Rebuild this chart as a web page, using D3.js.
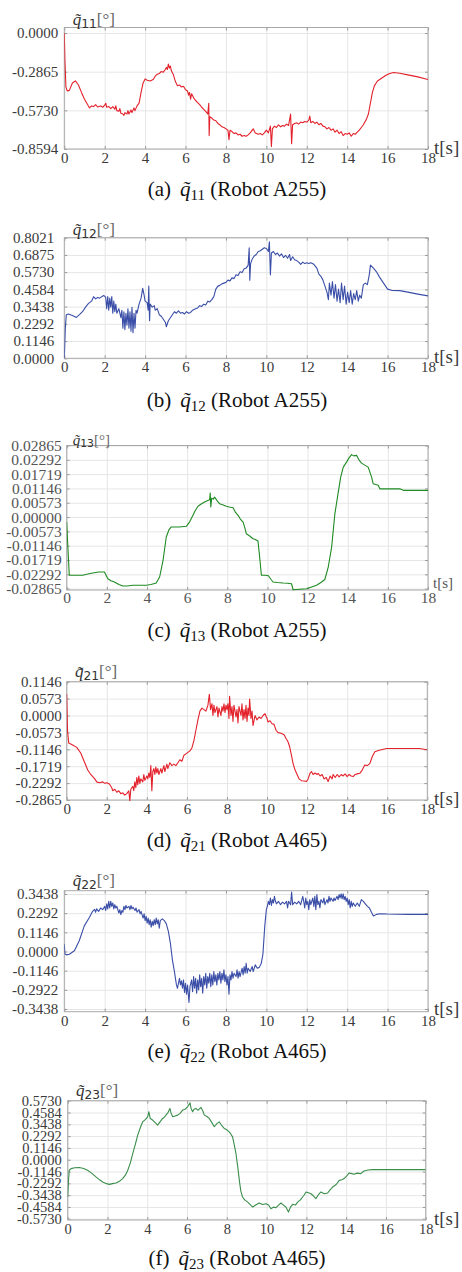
<!DOCTYPE html>
<html>
<head>
<meta charset="utf-8">
<script src="https://cdn.jsdelivr.net/npm/d3@7"></script>
<style>
  html, body { margin: 0; padding: 0; background: #fff; }
  svg { display: block; }
  text { white-space: pre; font-family: 'Liberation Serif', 'Times New Roman', serif; }
</style>
</head>
<body>
<svg id="chart" width="462" height="1272"></svg>
<script>
// ---------------- DATA ----------------
const xTicks = [0, 2, 4, 6, 8, 10, 12, 14, 16, 18];

const yTicks11 = [0, -0.2865, -0.5730, -0.8594];
const yLabels11 = ["0.0000", "-0.2865", "-0.5730", "-0.8594"];

const yTicks12 = [0, 0.1146, 0.2292, 0.3438, 0.4584, 0.5730, 0.6875, 0.8021];
const yLabels12 = ["0.0000", "0.1146", "0.2292", "0.3438", "0.4584", "0.5730", "0.6875", "0.8021"];

const yTicks13 = [-0.02865, -0.02292, -0.01719, -0.01146, -0.00573, 0, 0.00573, 0.01146, 0.01719, 0.02292, 0.02865];
const yLabels13 = ["-0.02865", "-0.02292", "-0.01719", "-0.01146", "-0.00573", "0.00000", "0.00573", "0.01146", "0.01719", "0.02292", "0.02865"];

const yTicks21 = [-0.2865, -0.2292, -0.1719, -0.1146, -0.0573, 0, 0.0573, 0.1146];
const yLabels21 = ["-0.2865", "-0.2292", "-0.1719", "-0.1146", "-0.0573", "0.0000", "0.0573", "0.1146"];

const yTicks22 = [-0.3438, -0.2292, -0.1146, 0, 0.1146, 0.2292, 0.3438];
const yLabels22 = ["-0.3438", "-0.2922", "-0.1146", "0.0000", "0.1146", "0.2292", "0.3438"];

const yTicks23 = [-0.5730, -0.4584, -0.3438, -0.2292, -0.1146, 0, 0.1146, 0.2292, 0.3438, 0.4584, 0.5730];
const yLabels23 = ["-0.5730", "-0.4584", "-0.3438", "-0.2292", "-0.1146", "0.0000", "0.1146", "0.2292", "0.3438", "0.4584", "0.5730"];

// [t (s), error (deg)]
const q11 = [[0,0],[0.03,-0.2],[0.08,-0.40],[0.15,-0.43],[0.25,-0.425],[0.4,-0.37],[0.55,-0.355],[0.7,-0.385],[0.85,-0.44],[1.0,-0.49],[1.15,-0.53],[1.25,-0.555],[1.35,-0.54],[1.45,-0.545],[1.55,-0.53],[1.65,-0.548],[1.8,-0.54],[1.9,-0.55],[2.0,-0.535],[2.05,-0.52],[2.1,-0.55],[2.2,-0.545],[2.3,-0.56],[2.4,-0.545],[2.5,-0.565],[2.55,-0.54],[2.6,-0.575],[2.7,-0.58],[2.75,-0.56],[2.8,-0.595],[2.9,-0.6],[2.95,-0.61],[3.0,-0.59],[3.1,-0.6],[3.15,-0.575],[3.2,-0.6],[3.3,-0.57],[3.35,-0.59],[3.45,-0.555],[3.5,-0.575],[3.6,-0.54],[3.7,-0.52],[3.8,-0.44],[3.9,-0.37],[4.0,-0.34],[4.1,-0.35],[4.25,-0.355],[4.4,-0.345],[4.5,-0.32],[4.6,-0.305],[4.7,-0.3],[4.8,-0.285],[4.9,-0.29],[5.0,-0.27],[5.05,-0.255],[5.1,-0.27],[5.15,-0.23],[5.2,-0.26],[5.25,-0.245],[5.3,-0.28],[5.4,-0.31],[5.5,-0.36],[5.6,-0.39],[5.7,-0.385],[5.8,-0.4],[5.9,-0.395],[6.0,-0.42],[6.1,-0.43],[6.15,-0.46],[6.2,-0.44],[6.25,-0.49],[6.3,-0.45],[6.4,-0.48],[6.5,-0.5],[6.6,-0.515],[6.7,-0.53],[6.8,-0.55],[6.9,-0.565],[7.0,-0.58],[7.1,-0.6],[7.15,-0.52],[7.17,-0.76],[7.2,-0.62],[7.3,-0.63],[7.4,-0.645],[7.5,-0.65],[7.6,-0.67],[7.7,-0.68],[7.8,-0.695],[7.9,-0.7],[8.0,-0.71],[8.1,-0.72],[8.15,-0.79],[8.2,-0.72],[8.3,-0.73],[8.4,-0.745],[8.5,-0.74],[8.6,-0.755],[8.7,-0.75],[8.8,-0.765],[8.9,-0.76],[9.0,-0.765],[9.1,-0.755],[9.2,-0.74],[9.35,-0.71],[9.45,-0.74],[9.6,-0.75],[9.7,-0.745],[9.8,-0.755],[9.9,-0.74],[10.0,-0.72],[10.1,-0.74],[10.2,-0.69],[10.25,-0.84],[10.3,-0.71],[10.4,-0.69],[10.5,-0.7],[10.6,-0.68],[10.7,-0.695],[10.8,-0.685],[10.9,-0.69],[11.0,-0.675],[11.1,-0.685],[11.2,-0.6],[11.25,-0.82],[11.3,-0.68],[11.4,-0.67],[11.5,-0.665],[11.6,-0.675],[11.7,-0.66],[11.8,-0.665],[11.9,-0.655],[12.0,-0.66],[12.1,-0.645],[12.15,-0.615],[12.2,-0.665],[12.3,-0.655],[12.4,-0.67],[12.5,-0.66],[12.6,-0.68],[12.7,-0.67],[12.8,-0.69],[12.9,-0.695],[13.0,-0.71],[13.1,-0.7],[13.2,-0.72],[13.3,-0.71],[13.4,-0.735],[13.5,-0.72],[13.6,-0.745],[13.7,-0.73],[13.8,-0.76],[13.9,-0.745],[14.0,-0.75],[14.1,-0.74],[14.2,-0.765],[14.3,-0.745],[14.4,-0.75],[14.5,-0.735],[14.6,-0.72],[14.7,-0.7],[14.8,-0.68],[14.95,-0.64],[15.05,-0.6],[15.15,-0.52],[15.25,-0.44],[15.35,-0.39],[15.5,-0.355],[15.7,-0.335],[15.9,-0.315],[16.1,-0.3],[16.3,-0.292],[16.6,-0.298],[17.0,-0.31],[17.5,-0.325],[18.0,-0.345]];

const q12 = [[0,0],[0.05,0.2],[0.1,0.29],[0.2,0.295],[0.4,0.285],[0.6,0.272],[0.75,0.29],[0.9,0.31],[1.05,0.34],[1.2,0.365],[1.35,0.38],[1.45,0.41],[1.55,0.395],[1.65,0.405],[1.75,0.4],[1.85,0.41],[1.95,0.418],[2.05,0.405],[2.1,0.33],[2.15,0.41],[2.2,0.32],[2.25,0.4],[2.3,0.34],[2.35,0.41],[2.4,0.3],[2.45,0.38],[2.5,0.31],[2.55,0.36],[2.6,0.3],[2.7,0.33],[2.8,0.27],[2.85,0.32],[2.9,0.2],[2.95,0.31],[3.0,0.19],[3.05,0.3],[3.1,0.22],[3.15,0.33],[3.2,0.2],[3.25,0.31],[3.3,0.18],[3.35,0.34],[3.4,0.17],[3.45,0.3],[3.5,0.2],[3.55,0.32],[3.6,0.3],[3.7,0.36],[3.8,0.4],[3.88,0.465],[3.95,0.42],[4.0,0.38],[4.1,0.37],[4.15,0.32],[4.18,0.48],[4.22,0.25],[4.25,0.36],[4.35,0.34],[4.45,0.35],[4.5,0.32],[4.6,0.33],[4.7,0.29],[4.8,0.28],[4.9,0.26],[5.0,0.24],[5.05,0.21],[5.1,0.23],[5.15,0.25],[5.25,0.27],[5.35,0.29],[5.45,0.31],[5.55,0.3],[5.65,0.315],[5.75,0.3],[5.85,0.305],[5.95,0.295],[6.05,0.31],[6.15,0.3],[6.25,0.305],[6.35,0.32],[6.5,0.33],[6.6,0.335],[6.7,0.35],[6.8,0.345],[6.9,0.36],[7.0,0.355],[7.1,0.38],[7.2,0.375],[7.3,0.39],[7.4,0.41],[7.5,0.46],[7.6,0.48],[7.7,0.485],[7.8,0.495],[7.9,0.5],[8.0,0.505],[8.1,0.52],[8.2,0.515],[8.3,0.535],[8.4,0.53],[8.5,0.555],[8.6,0.55],[8.7,0.575],[8.8,0.57],[8.9,0.595],[9.0,0.6],[9.1,0.62],[9.15,0.735],[9.18,0.52],[9.22,0.63],[9.3,0.66],[9.4,0.68],[9.5,0.69],[9.6,0.71],[9.7,0.715],[9.8,0.725],[9.9,0.735],[10.0,0.73],[10.1,0.71],[10.15,0.775],[10.2,0.555],[10.25,0.7],[10.35,0.71],[10.45,0.69],[10.55,0.7],[10.65,0.68],[10.75,0.695],[10.85,0.67],[10.95,0.685],[11.05,0.665],[11.15,0.69],[11.2,0.65],[11.3,0.675],[11.4,0.655],[11.5,0.65],[11.6,0.64],[11.7,0.625],[11.8,0.64],[11.9,0.63],[12.0,0.635],[12.1,0.63],[12.2,0.635],[12.35,0.625],[12.5,0.6],[12.6,0.56],[12.7,0.545],[12.8,0.52],[12.9,0.48],[13.0,0.44],[13.07,0.39],[13.12,0.5],[13.2,0.42],[13.27,0.51],[13.35,0.4],[13.42,0.49],[13.5,0.38],[13.57,0.46],[13.65,0.37],[13.72,0.5],[13.8,0.39],[13.87,0.48],[13.95,0.36],[14.02,0.44],[14.1,0.37],[14.17,0.45],[14.25,0.36],[14.32,0.43],[14.4,0.39],[14.47,0.45],[14.55,0.38],[14.62,0.42],[14.7,0.4],[14.8,0.49],[14.9,0.5],[15.0,0.49],[15.1,0.56],[15.15,0.62],[15.3,0.6],[15.45,0.575],[15.6,0.54],[15.8,0.5],[16.0,0.46],[16.2,0.452],[16.6,0.45],[17.0,0.44],[17.5,0.427],[18.0,0.415]];

const q13 = [[0,-0.002],[0.05,-0.0107],[0.13,-0.0233],[0.5,-0.0233],[0.8,-0.0233],[1.05,-0.0228],[1.3,-0.0224],[1.6,-0.022],[1.88,-0.022],[2.05,-0.0247],[2.2,-0.0255],[2.38,-0.026],[2.6,-0.027],[2.8,-0.0276],[3.0,-0.0276],[3.3,-0.0273],[3.6,-0.0273],[3.96,-0.0273],[4.2,-0.027],[4.46,-0.0264],[4.63,-0.024],[4.8,-0.0173],[4.96,-0.008],[5.1,-0.005],[5.2,-0.004],[5.6,-0.004],[5.96,-0.0037],[6.12,-0.002],[6.29,0.0007],[6.4,0.0025],[6.54,0.0043],[6.7,0.0052],[6.87,0.006],[7.0,0.0065],[7.12,0.0069],[7.15,0.0096],[7.18,0.004],[7.22,0.0075],[7.3,0.0072],[7.37,0.008],[7.5,0.0065],[7.62,0.0053],[7.8,0.0048],[7.95,0.0043],[8.1,0.004],[8.29,0.0037],[8.4,0.002],[8.54,0.0007],[8.65,-0.0008],[8.79,-0.002],[8.9,-0.005],[8.95,-0.0067],[9.1,-0.0075],[9.28,-0.0087],[9.4,-0.009],[9.53,-0.0096],[9.6,-0.015],[9.7,-0.0233],[9.9,-0.0233],[10.05,-0.0235],[10.12,-0.0243],[10.2,-0.0252],[10.28,-0.026],[10.5,-0.0262],[10.78,-0.0264],[11.0,-0.0265],[11.2,-0.0267],[11.28,-0.0291],[11.6,-0.0289],[11.95,-0.0287],[12.2,-0.028],[12.45,-0.0273],[12.7,-0.026],[12.86,-0.025],[13.03,-0.02],[13.2,-0.012],[13.36,0.0013],[13.53,0.01],[13.65,0.016],[13.78,0.02],[13.94,0.022],[14.05,0.0235],[14.19,0.025],[14.3,0.0245],[14.44,0.0247],[14.55,0.023],[14.69,0.0216],[14.85,0.0208],[15.02,0.02],[15.19,0.016],[15.27,0.0133],[15.52,0.0127],[15.6,0.0113],[16.0,0.0113],[16.6,0.0113],[16.77,0.0107],[17.4,0.0107],[18.0,0.0107]];

const q21 = [[0,0.073],[0.04,-0.05],[0.1,-0.093],[0.3,-0.1],[0.5,-0.108],[0.7,-0.127],[0.9,-0.16],[1.05,-0.185],[1.2,-0.2],[1.38,-0.213],[1.5,-0.225],[1.63,-0.228],[1.8,-0.225],[1.9,-0.23],[2.0,-0.228],[2.13,-0.232],[2.25,-0.245],[2.3,-0.255],[2.4,-0.25],[2.5,-0.26],[2.6,-0.255],[2.7,-0.265],[2.8,-0.262],[2.9,-0.27],[3.0,-0.265],[3.1,-0.255],[3.15,-0.29],[3.2,-0.25],[3.3,-0.24],[3.35,-0.255],[3.4,-0.225],[3.45,-0.245],[3.5,-0.21],[3.55,-0.235],[3.6,-0.205],[3.65,-0.23],[3.7,-0.215],[3.8,-0.225],[3.85,-0.2],[3.9,-0.22],[4.0,-0.205],[4.05,-0.215],[4.1,-0.195],[4.15,-0.21],[4.2,-0.17],[4.25,-0.255],[4.3,-0.19],[4.35,-0.18],[4.4,-0.2],[4.45,-0.175],[4.5,-0.195],[4.55,-0.18],[4.6,-0.2],[4.7,-0.18],[4.75,-0.195],[4.85,-0.17],[4.9,-0.19],[5.0,-0.165],[5.05,-0.18],[5.15,-0.16],[5.25,-0.17],[5.35,-0.165],[5.45,-0.17],[5.55,-0.16],[5.65,-0.15],[5.75,-0.155],[5.85,-0.135],[5.95,-0.13],[6.05,-0.125],[6.15,-0.12],[6.25,-0.11],[6.35,-0.085],[6.45,-0.05],[6.55,-0.015],[6.65,0.015],[6.75,0.025],[6.85,0.02],[6.95,0.015],[7.05,0.035],[7.12,0.072],[7.18,0.02],[7.25,0.04],[7.3,0.0],[7.35,0.035],[7.4,0.01],[7.5,0.03],[7.55,-0.005],[7.6,0.025],[7.7,0.0],[7.75,0.03],[7.8,0.015],[7.85,0.04],[7.9,0.01],[7.95,0.035],[8.0,0.02],[8.05,0.04],[8.1,-0.01],[8.13,0.065],[8.2,0.0],[8.25,0.03],[8.3,-0.02],[8.35,0.035],[8.45,-0.005],[8.5,0.02],[8.55,-0.025],[8.6,0.03],[8.7,0.0],[8.75,0.04],[8.8,-0.015],[8.85,0.02],[8.9,-0.01],[8.95,0.035],[9.0,-0.02],[9.05,0.025],[9.1,0.0],[9.13,0.056],[9.2,-0.01],[9.25,0.015],[9.3,-0.034],[9.4,0.0],[9.5,-0.015],[9.6,-0.005],[9.7,-0.01],[9.8,0.0],[9.9,0.006],[10.0,-0.01],[10.05,-0.022],[10.15,-0.018],[10.25,-0.028],[10.35,-0.03],[10.45,-0.05],[10.55,-0.058],[10.7,-0.06],[10.85,-0.065],[10.95,-0.078],[11.05,-0.09],[11.13,-0.106],[11.22,-0.135],[11.3,-0.163],[11.4,-0.185],[11.5,-0.2],[11.6,-0.215],[11.72,-0.221],[11.85,-0.222],[11.97,-0.224],[12.05,-0.215],[12.15,-0.195],[12.22,-0.19],[12.3,-0.2],[12.4,-0.195],[12.5,-0.2],[12.55,-0.196],[12.65,-0.205],[12.75,-0.2],[12.85,-0.215],[12.95,-0.21],[13.05,-0.224],[13.15,-0.205],[13.25,-0.215],[13.3,-0.2],[13.4,-0.21],[13.5,-0.2],[13.6,-0.208],[13.7,-0.2],[13.8,-0.205],[13.9,-0.198],[14.0,-0.207],[14.1,-0.2],[14.2,-0.205],[14.3,-0.207],[14.4,-0.2],[14.5,-0.198],[14.63,-0.196],[14.75,-0.185],[14.88,-0.168],[15.0,-0.17],[15.13,-0.163],[15.25,-0.14],[15.38,-0.123],[15.6,-0.118],[15.97,-0.112],[16.6,-0.112],[17.6,-0.112],[18.0,-0.116]];

const q22 = [[0,0.044],[0.03,-0.015],[0.1,-0.02],[0.25,-0.016],[0.5,0.004],[0.74,0.064],[0.99,0.153],[1.24,0.203],[1.4,0.24],[1.5,0.252],[1.55,0.235],[1.6,0.255],[1.7,0.24],[1.8,0.26],[1.9,0.25],[2.0,0.27],[2.05,0.245],[2.1,0.285],[2.15,0.255],[2.2,0.3],[2.25,0.26],[2.3,0.3],[2.35,0.27],[2.4,0.29],[2.45,0.255],[2.5,0.28],[2.55,0.26],[2.6,0.27],[2.7,0.23],[2.75,0.25],[2.8,0.22],[2.85,0.245],[2.9,0.235],[2.95,0.27],[3.0,0.25],[3.05,0.275],[3.1,0.26],[3.2,0.27],[3.25,0.25],[3.3,0.275],[3.35,0.255],[3.4,0.265],[3.5,0.245],[3.55,0.26],[3.6,0.235],[3.7,0.25],[3.75,0.225],[3.8,0.24],[3.9,0.2],[3.95,0.225],[4.0,0.185],[4.05,0.21],[4.1,0.17],[4.15,0.2],[4.2,0.16],[4.25,0.19],[4.3,0.145],[4.35,0.18],[4.4,0.155],[4.45,0.19],[4.5,0.16],[4.55,0.2],[4.6,0.165],[4.65,0.19],[4.7,0.14],[4.75,0.185],[4.85,0.195],[4.95,0.185],[5.05,0.165],[5.15,0.12],[5.25,0.05],[5.35,-0.05],[5.45,-0.12],[5.55,-0.2],[5.6,-0.22],[5.7,-0.16],[5.75,-0.2],[5.8,-0.175],[5.85,-0.22],[5.9,-0.17],[5.95,-0.245],[6.0,-0.19],[6.05,-0.255],[6.1,-0.2],[6.17,-0.305],[6.22,-0.21],[6.3,-0.17],[6.35,-0.24],[6.4,-0.15],[6.45,-0.22],[6.5,-0.16],[6.55,-0.25],[6.6,-0.17],[6.65,-0.23],[6.7,-0.14],[6.75,-0.21],[6.8,-0.16],[6.85,-0.25],[6.9,-0.15],[6.95,-0.2],[7.0,-0.13],[7.05,-0.22],[7.1,-0.15],[7.15,-0.19],[7.2,-0.13],[7.25,-0.21],[7.3,-0.14],[7.35,-0.2],[7.4,-0.12],[7.45,-0.18],[7.5,-0.14],[7.55,-0.2],[7.6,-0.13],[7.65,-0.17],[7.7,-0.12],[7.75,-0.19],[7.8,-0.13],[7.85,-0.17],[7.9,-0.11],[7.95,-0.18],[8.0,-0.14],[8.05,-0.2],[8.1,-0.15],[8.15,-0.255],[8.2,-0.14],[8.25,-0.17],[8.3,-0.12],[8.35,-0.16],[8.4,-0.13],[8.5,-0.15],[8.55,-0.11],[8.6,-0.16],[8.65,-0.12],[8.7,-0.15],[8.8,-0.1],[8.85,-0.14],[8.9,-0.09],[8.95,-0.13],[9.0,-0.07],[9.05,-0.13],[9.1,-0.1],[9.2,-0.12],[9.3,-0.09],[9.35,-0.12],[9.45,-0.08],[9.55,-0.1],[9.65,-0.095],[9.75,-0.07],[9.83,-0.016],[9.92,0.15],[10.0,0.25],[10.05,0.27],[10.1,0.3],[10.15,0.28],[10.2,0.32],[10.25,0.275],[10.3,0.31],[10.35,0.29],[10.4,0.33],[10.45,0.3],[10.5,0.285],[10.6,0.3],[10.7,0.28],[10.8,0.295],[10.9,0.285],[11.0,0.3],[11.05,0.26],[11.1,0.3],[11.2,0.28],[11.25,0.355],[11.3,0.28],[11.4,0.295],[11.5,0.285],[11.6,0.3],[11.7,0.28],[11.8,0.33],[11.85,0.3],[11.9,0.26],[11.95,0.32],[12.0,0.28],[12.05,0.3],[12.1,0.25],[12.15,0.31],[12.2,0.28],[12.3,0.32],[12.35,0.27],[12.4,0.33],[12.45,0.25],[12.5,0.34],[12.55,0.28],[12.6,0.3],[12.65,0.26],[12.7,0.31],[12.8,0.29],[12.85,0.32],[12.9,0.28],[13.0,0.31],[13.05,0.29],[13.1,0.33],[13.15,0.3],[13.2,0.32],[13.3,0.3],[13.35,0.32],[13.4,0.305],[13.5,0.33],[13.55,0.31],[13.6,0.34],[13.65,0.32],[13.7,0.345],[13.75,0.315],[13.8,0.345],[13.85,0.31],[13.9,0.33],[13.95,0.3],[14.0,0.32],[14.05,0.28],[14.1,0.31],[14.15,0.26],[14.2,0.3],[14.25,0.27],[14.3,0.29],[14.4,0.27],[14.5,0.29],[14.6,0.27],[14.7,0.31],[14.8,0.3],[14.9,0.285],[15.0,0.27],[15.1,0.26],[15.2,0.235],[15.3,0.212],[15.45,0.222],[15.62,0.226],[16.0,0.224],[17.0,0.222],[18.0,0.222]];

const q23 = [[0,-0.362],[0.04,-0.2],[0.08,-0.102],[0.17,-0.086],[0.35,-0.078],[0.59,-0.076],[0.8,-0.085],[1.0,-0.102],[1.2,-0.13],[1.42,-0.167],[1.6,-0.195],[1.76,-0.216],[1.95,-0.232],[2.1,-0.239],[2.25,-0.232],[2.43,-0.226],[2.6,-0.21],[2.76,-0.183],[2.9,-0.15],[3.02,-0.102],[3.15,-0.03],[3.27,0.06],[3.4,0.15],[3.52,0.239],[3.65,0.31],[3.77,0.368],[3.9,0.39],[4.02,0.417],[4.08,0.466],[4.15,0.4],[4.27,0.385],[4.4,0.36],[4.52,0.336],[4.65,0.37],[4.77,0.401],[4.85,0.41],[4.94,0.433],[5.05,0.46],[5.14,0.498],[5.2,0.45],[5.28,0.417],[5.4,0.425],[5.53,0.433],[5.65,0.45],[5.78,0.482],[5.9,0.49],[6.03,0.514],[6.15,0.553],[6.2,0.5],[6.28,0.466],[6.35,0.49],[6.45,0.498],[6.55,0.48],[6.7,0.508],[6.8,0.47],[6.87,0.433],[7.0,0.42],[7.12,0.401],[7.25,0.36],[7.37,0.32],[7.5,0.35],[7.62,0.368],[7.75,0.33],[7.87,0.304],[8.0,0.29],[8.12,0.271],[8.2,0.25],[8.29,0.222],[8.37,0.15],[8.46,0.06],[8.55,-0.07],[8.63,-0.2],[8.7,-0.3],[8.79,-0.362],[8.9,-0.39],[9.05,-0.411],[9.15,-0.43],[9.3,-0.459],[9.45,-0.44],[9.63,-0.42],[9.8,-0.435],[9.97,-0.427],[10.1,-0.44],[10.22,-0.476],[10.35,-0.46],[10.47,-0.466],[10.6,-0.44],[10.72,-0.42],[10.85,-0.44],[10.97,-0.459],[11.1,-0.508],[11.2,-0.46],[11.31,-0.433],[11.45,-0.44],[11.56,-0.411],[11.7,-0.39],[11.81,-0.362],[11.9,-0.34],[11.98,-0.313],[12.1,-0.32],[12.23,-0.33],[12.35,-0.35],[12.48,-0.378],[12.6,-0.34],[12.73,-0.313],[12.9,-0.33],[13.07,-0.323],[13.2,-0.29],[13.32,-0.265],[13.5,-0.24],[13.65,-0.2],[13.78,-0.195],[13.9,-0.183],[14.02,-0.16],[14.15,-0.128],[14.28,-0.135],[14.4,-0.141],[14.55,-0.13],[14.74,-0.135],[14.9,-0.109],[15.1,-0.1],[15.33,-0.096],[16.0,-0.096],[17.0,-0.096],[18.0,-0.096]];

// ---------------- LAYOUT ----------------
const panels = [
  { data: q11, color: "#e3212b", sub: "11", letter: "(a)", robot: "(Robot A255)",
    L: 64.3, R: 428, T: 27.5, B: 149, yDomain: [-0.8594, 0.041], yTicks: yTicks11, yLabels: yLabels11,
    labelGap: 6, tickFont: 15, xPad: 3.3, capY: 196, titleFont: 17, titleX: 72.7, titleDy: -3,
    tsFont: 19, tsX: 434, tsDy: 5, tickColor: "#3a3a3a" },
  { data: q12, color: "#3a4ea8", sub: "12", letter: "(b)", robot: "(Robot A255)",
    L: 64.3, R: 428, T: 237.7, B: 358.3, yDomain: [0, 0.8021], yTicks: yTicks12, yLabels: yLabels12,
    labelGap: 10, tickFont: 15, xPad: 3.3, capY: 407, titleFont: 17, titleX: 72.7, titleDy: -3,
    tsFont: 19, tsX: 434, tsDy: 5, tickColor: "#3a3a3a" },
  { data: q13, color: "#1e8a22", sub: "13", letter: "(c)", robot: "(Robot A255)",
    L: 66.7, R: 428, T: 445.5, B: 590, yDomain: [-0.0292, 0.02865], yTicks: yTicks13, yLabels: yLabels13,
    labelGap: 5, tickFont: 15.5, xPad: 1.6, capY: 637, titleFont: 15, titleX: 72.7, titleDy: -1,
    tsFont: 15, tsX: 433, tsDy: -2.5, tickColor: "#555" },
  { data: q21, color: "#e3212b", sub: "21", letter: "(d)", robot: "(Robot A465)",
    L: 66.7, R: 427.3, T: 681.7, B: 800, yDomain: [-0.2865, 0.1146], yTicks: yTicks21, yLabels: yLabels21,
    labelGap: 5, tickFont: 15, xPad: 3.3, capY: 847, titleFont: 17, titleX: 75, titleDy: -4.5,
    tsFont: 19, tsX: 434, tsDy: 4.5, tickColor: "#3a3a3a" },
  { data: q22, color: "#3a4ea8", sub: "22", letter: "(e)", robot: "(Robot A465)",
    L: 64.3, R: 428, T: 890.7, B: 1011.7, yDomain: [-0.36, 0.3635], yTicks: yTicks22, yLabels: yLabels22,
    labelGap: 6, tickFont: 15, xPad: 3.3, capY: 1058, titleFont: 17, titleX: 72.7, titleDy: -5,
    tsFont: 19, tsX: 434, tsDy: 3, tickColor: "#3a3a3a" },
  { data: q23, color: "#3a8e4c", sub: "23", letter: "(f)", robot: "(Robot A465)",
    L: 67.7, R: 425.7, T: 1100.7, B: 1220, yDomain: [-0.585, 0.573], yTicks: yTicks23, yLabels: yLabels23,
    labelGap: 6, tickFont: 14.5, xPad: 3.3, capY: 1265, titleFont: 17, titleX: 76, titleDy: -5,
    tsFont: 19, tsX: 434, tsDy: 5, tickColor: "#3a3a3a" }
];

const FONT = "'Liberation Serif', 'Times New Roman', serif";
const svg = d3.select("#chart");

panels.forEach((p, idx) => {
  const g = svg.append("g");
  const x = d3.scaleLinear().domain([0, 18]).range([p.L, p.R]);
  const y = d3.scaleLinear().domain(p.yDomain).range([p.B, p.T]);
  const W = p.R - p.L, H = p.B - p.T;

  // gridlines
  g.append("g").attr("transform", `translate(0,${p.B})`)
    .call(d3.axisBottom(x).tickValues(xTicks).tickSize(-H).tickFormat(""))
    .call(s => { s.select(".domain").remove(); s.selectAll("line").attr("stroke", "#e6e6e6").attr("stroke-width", 1); });
  g.append("g").attr("transform", `translate(${p.L},0)`)
    .call(d3.axisLeft(y).tickValues(p.yTicks).tickSize(-W).tickFormat(""))
    .call(s => { s.select(".domain").remove(); s.selectAll("line").attr("stroke", "#e6e6e6").attr("stroke-width", 1); });

  // inner tick marks on all sides
  const tickStyle = s => { s.select(".domain").remove(); s.selectAll("line").attr("stroke", "#9a9a9a"); };
  g.append("g").attr("transform", `translate(0,${p.B})`).call(d3.axisBottom(x).tickValues(xTicks).tickSize(-3).tickFormat("")).call(tickStyle);
  g.append("g").attr("transform", `translate(0,${p.T})`).call(d3.axisTop(x).tickValues(xTicks).tickSize(-3).tickFormat("")).call(tickStyle);
  g.append("g").attr("transform", `translate(${p.L},0)`).call(d3.axisLeft(y).tickValues(p.yTicks).tickSize(-3).tickFormat("")).call(tickStyle);
  g.append("g").attr("transform", `translate(${p.R},0)`).call(d3.axisRight(y).tickValues(p.yTicks).tickSize(-3).tickFormat("")).call(tickStyle);

  // frame
  g.append("rect").attr("x", p.L).attr("y", p.T).attr("width", W).attr("height", H)
    .attr("fill", "none").attr("stroke", "#a8a8a8").attr("stroke-width", 1);

  // clip + line
  const clipId = "clip" + idx;
  svg.append("clipPath").attr("id", clipId).append("rect")
    .attr("x", p.L).attr("y", p.T - 1).attr("width", W).attr("height", H + 2);
  const line = d3.line().x(d => x(d[0])).y(d => y(d[1]));
  g.append("path").datum(p.data).attr("clip-path", `url(#${clipId})`)
    .attr("d", line).attr("fill", "none").attr("stroke", p.color)
    .attr("stroke-width", 1.1).attr("stroke-linejoin", "round");

  // tick labels
  const yAx = g.append("g").attr("transform", `translate(${p.L},0)`)
    .call(d3.axisLeft(y).tickValues(p.yTicks).tickSize(0).tickPadding(p.labelGap)
      .tickFormat((d, i) => p.yLabels[i]));
  yAx.select(".domain").remove();
  yAx.attr("font-family", null).attr("font-size", null);
  yAx.selectAll("text").style("font-family", FONT).style("font-size", p.tickFont + "px").attr("fill", p.tickColor);

  const xAx = g.append("g").attr("transform", `translate(0,${p.B})`)
    .call(d3.axisBottom(x).tickValues(xTicks).tickSize(0).tickPadding(p.xPad).tickFormat(d3.format("d")));
  xAx.select(".domain").remove();
  xAx.attr("font-family", null).attr("font-size", null);
  xAx.selectAll("text").style("font-family", FONT).style("font-size", p.tickFont + "px").attr("fill", p.tickColor);

  // y title  q~_ij [°]
  const tt = g.append("text").attr("x", p.titleX).attr("y", p.T + p.titleDy)
    .style("font-family", FONT).style("font-size", p.titleFont + "px").attr("fill", "#333");
  tt.append("tspan").attr("font-style", "italic").text("q\u0303");
  tt.append("tspan").style("font-size", (p.titleFont * 0.72) + "px").attr("dy", p.titleFont * 0.18)
    .style("font-family", "'DejaVu Sans', sans-serif").text(p.sub);
  tt.append("tspan").attr("dy", -p.titleFont * 0.18).attr("fill", "#666").text("[°]");

  // t[s]
  g.append("text").attr("x", p.tsX).attr("y", p.B + p.tsDy)
    .style("font-family", FONT).style("font-size", p.tsFont + "px").attr("fill", p.tickColor).text("t[s]");

  // caption
  const cap = g.append("text").attr("x", 237).attr("y", p.capY).attr("text-anchor", "middle")
    .style("font-family", FONT).style("font-size", "21px").attr("fill", "#111");
  cap.append("tspan").text(p.letter);
  cap.append("tspan").attr("dx", 9).attr("font-style", "italic").text("q\u0303");
  cap.append("tspan").style("font-size", "15px").attr("dy", 4).text(p.sub);
  cap.append("tspan").attr("dy", -4).text(" " + p.robot);
});
</script>
</body>
</html>
